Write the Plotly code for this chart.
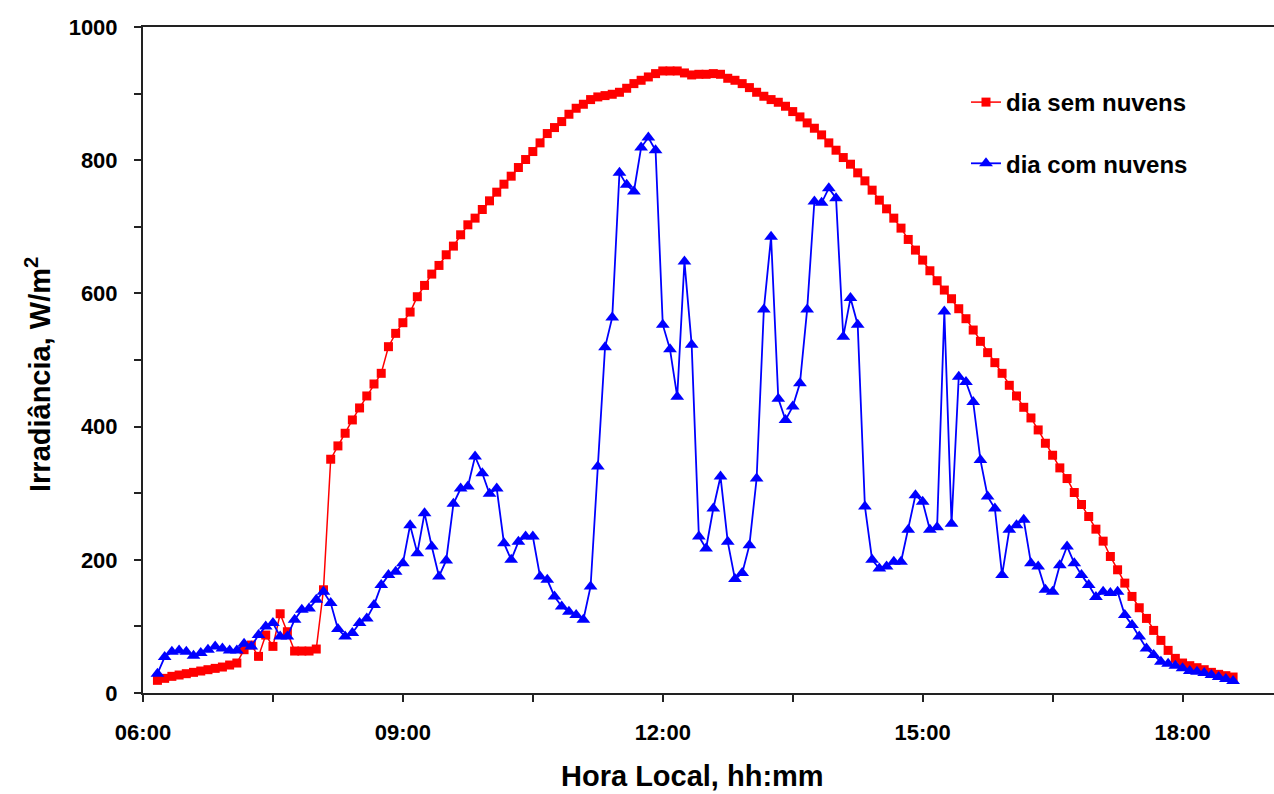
import plotly.graph_objects as go

# ---- data ----
start_hour, start_min, step_min, n_points = 6, 10, 5, 150
times = []
for i in range(n_points):
    m = start_hour * 60 + start_min + i * step_min
    times.append(f"2000-01-01 {m // 60:02d}:{m % 60:02d}:00")

clear_sky = [
    19, 22, 25, 27, 29, 31, 33, 35, 37, 39, 42, 45,
    65, 72, 55, 87, 70, 119, 92, 63, 63, 63, 66, 155,
    351, 371, 390, 410, 428, 446, 464, 480, 520, 540, 556, 572, 595, 612, 629, 642,
    658, 671, 688, 703, 713, 726, 739,
    752, 764, 776, 789, 801,
    813, 826, 840, 849, 858, 869, 878, 884, 891, 895,
    897, 899, 902, 908, 915, 920, 925, 930, 934, 934,
    934, 931, 928, 929, 929, 930, 929, 923, 920, 915,
    909, 902, 896, 891, 887, 881, 873, 865, 856, 848,
    838, 826, 815, 804, 794, 781, 769, 755, 740, 727,
    713, 698, 681, 665, 650, 634, 619, 605, 592, 577,
    562, 545, 528, 511, 496, 480, 462, 446, 429, 413,
    395, 375, 357, 338, 322, 301, 283, 265, 246, 228,
    205, 185, 165, 145, 128, 112, 94, 79, 64, 52,
    45, 41, 38, 35, 31, 28, 26, 24,
]

cloudy = [
    29, 54, 62, 64, 62, 56, 60, 65, 70, 67, 64, 64, 74, 70, 87, 100, 105, 85, 85, 110,
    125, 127, 140, 152, 135, 96, 85, 90, 105, 112, 132, 162, 177, 182, 195,
    252, 210, 270, 220, 175, 199, 284, 307, 310, 355, 330, 299, 307, 225, 200, 227, 235, 235,
    175, 170, 145, 130, 122, 117, 110, 160, 340, 519, 564, 781, 763, 753, 819, 834,
    815, 553, 516, 445, 648, 523, 235, 217, 277, 325,
    227, 171, 180, 222, 322, 576, 685, 442, 410, 430,
    465, 576, 738, 736, 758, 743, 535, 593, 553, 280,
    200, 187,
    190, 197, 197, 245, 297, 287, 245, 249, 573, 254,
    475, 467, 437, 350, 295, 277, 177, 245, 252, 260,
    195, 190, 155, 152, 192, 220, 195, 177, 162, 144,
    152, 150, 152, 117, 102, 85, 67, 57, 47, 44,
    41, 37, 33, 32, 30, 27, 24, 21, 18,
]

series_names = ["dia sem nuvens", "dia com nuvens"]

x_tick_vals = ["2000-01-01 06:00", "2000-01-01 09:00", "2000-01-01 12:00",
               "2000-01-01 15:00", "2000-01-01 18:00"]
x_tick_text = ["06:00", "09:00", "12:00", "15:00", "18:00"]
y_tick_vals = [0, 200, 400, 600, 800, 1000]
y_tick_text = ["0", "200", "400", "600", "800", "1000"]

assert len(times) == len(clear_sky) == len(cloudy)

FONT = "Liberation Sans, Arial, sans-serif"

fig = go.Figure()
fig.add_trace(go.Scatter(
    x=times, y=clear_sky, name=series_names[0], mode="lines+markers",
    line=dict(color="#ff0000", width=1.5),
    marker=dict(symbol="square", size=9, color="#ff0000"),
    legendgroup="a",
))
fig.add_trace(go.Scatter(
    x=times, y=cloudy, name=series_names[1], mode="lines+markers",
    line=dict(color="#0000ff", width=1.8),
    marker=dict(symbol="triangle-up", size=12, color="#0000ff"),
    legendgroup="b",
))

W, H = 1274, 794
L, R, T, B = 143, 0, 27, 101
pw = W - L - R

fig.update_layout(
    width=W, height=H,
    margin=dict(l=L, r=R, t=T, b=B),
    paper_bgcolor="white", plot_bgcolor="white",
    font=dict(family=FONT, color="black"),
    showlegend=True,
    legend=dict(
        x=(966 - L) / pw, y=(693 - 80) / 666, xanchor="left", yanchor="top",
        bgcolor="rgba(0,0,0,0)", borderwidth=0,
        font=dict(size=24, family=FONT, weight="bold"),
        tracegroupgap=27,
    ),
    xaxis=dict(
        type="date",
        range=["2000-01-01 06:00:00", "2000-01-01 19:03:20"],
        showgrid=False, zeroline=False,
        showline=True, linecolor="#222", linewidth=2, mirror=True,
        ticks="outside", ticklen=7, tickwidth=2, tickcolor="#222",
        tickvals=x_tick_vals, ticktext=x_tick_text,
        tickfont=dict(size=22, family=FONT, weight="bold"),
        ticklabelstandoff=12,
        minor=dict(ticks="outside", ticklen=7, tickwidth=2, tickcolor="#222",
                   dtick=90 * 60 * 1000, tick0="2000-01-01 06:00:00", showgrid=False),
    ),
    yaxis=dict(
        range=[0, 1000],
        showgrid=False, zeroline=False,
        showline=True, linecolor="#222", linewidth=2, mirror=False,
        ticks="outside", ticklen=7, tickwidth=2, tickcolor="#222",
        tickvals=y_tick_vals, ticktext=y_tick_text,
        tickfont=dict(size=22, family=FONT, weight="bold"),
        ticklabelstandoff=12,
        minor=dict(ticks="outside", ticklen=7, tickwidth=2, tickcolor="#222",
                   dtick=100, tick0=0, showgrid=False),
    ),
    annotations=[
        dict(text="Hora Local, hh:mm", xref="paper", yref="paper",
             x=(692 - L) / pw, y=-(776 - 693) / 666, xanchor="center", yanchor="middle",
             showarrow=False, font=dict(size=29, family=FONT, weight="bold")),
        dict(text="Irradiância, W/m<sup>2</sup>", xref="paper", yref="paper",
             x=-(L - 38) / pw, y=(693 - 375) / 666, xanchor="center", yanchor="middle",
             textangle=-90, showarrow=False,
             font=dict(size=29, family=FONT, weight="bold")),
    ],
)

fig.write_html("out.html", config={"displayModeBar": False},
               post_script="document.body.style.margin='0';")
